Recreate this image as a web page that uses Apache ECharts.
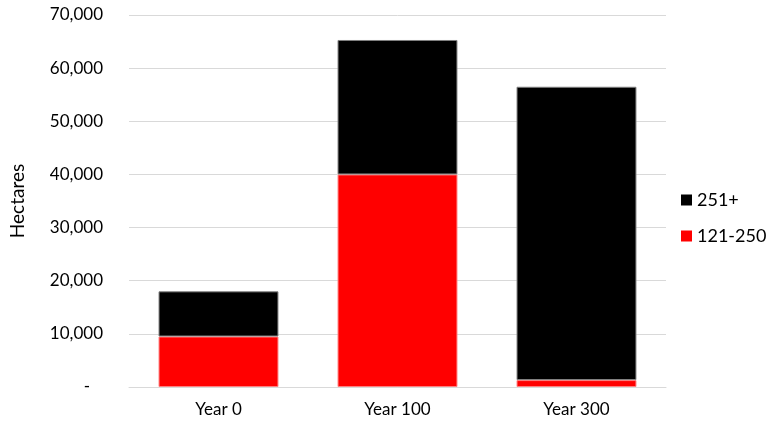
<!DOCTYPE html>
<html>
<head>
<meta charset="utf-8">
<script src="https://cdn.jsdelivr.net/npm/echarts@6/dist/echarts.min.js"></script>
<style>
    html, body { margin: 0; padding: 0; background: #fff; }
    #chart { width: 767px; height: 429px; }
</style>
</head>
<body>
<div id="chart"></div>
<script>
// 数据
const categories = ['Year 0', 'Year 100', 'Year 300'];
const age121to250 = [9500, 40000, 1300];
const age251plus = [8500, 25300, 55200];

const chart = echarts.init(document.getElementById('chart'));

const font = 'Lato, "Open Sans", sans-serif';

const option = {
    backgroundColor: '#fff',
    animation: false,
    textStyle: { fontFamily: font },
    grid: {
        left: 129,
        right: 101,
        top: 15,
        bottom: 42
    },
    legend: {
        orient: 'vertical',
        left: 676,
        top: 186,
        itemWidth: 11,
        itemHeight: 11,
        itemGap: 18,
        icon: 'rect',
        itemStyle: { borderWidth: 0 },
        textStyle: { color: '#000', fontSize: 18, fontFamily: font },
        data: ['251+', '121-250']
    },
    xAxis: {
        type: 'category',
        data: categories,
        axisLine: { lineStyle: { color: '#d9d9d9' } },
        axisTick: { show: false },
        axisLabel: { color: '#000', fontSize: 17, margin: 14 }
    },
    yAxis: {
        type: 'value',
        min: 0,
        max: 70000,
        interval: 10000,
        name: 'Hectares',
        nameLocation: 'middle',
        nameGap: 102,
        nameTextStyle: { color: '#000', fontSize: 19 },
        axisLine: { show: false },
        axisTick: { show: false },
        axisLabel: {
            color: '#000',
            fontSize: 17,
            margin: 26,
            formatter: v => v === 0 ? '-   ' : v.toLocaleString('en-US')
        },
        splitLine: { lineStyle: { color: '#d9d9d9' } }
    },
    series: [
        {
            name: '121-250',
            type: 'bar',
            stack: 'total',
            barWidth: '67%',
            itemStyle: { color: '#ff0000', borderColor: '#ff8080', borderWidth: 1 },
            data: age121to250
        },
        {
            name: '251+',
            type: 'bar',
            stack: 'total',
            itemStyle: { color: '#000000', borderColor: '#808080', borderWidth: 1 },
            data: age251plus
        }
    ]
};

chart.setOption(option);

window.addEventListener('resize', () => {
    chart && chart.resize();
});
</script>
</body>
</html>
